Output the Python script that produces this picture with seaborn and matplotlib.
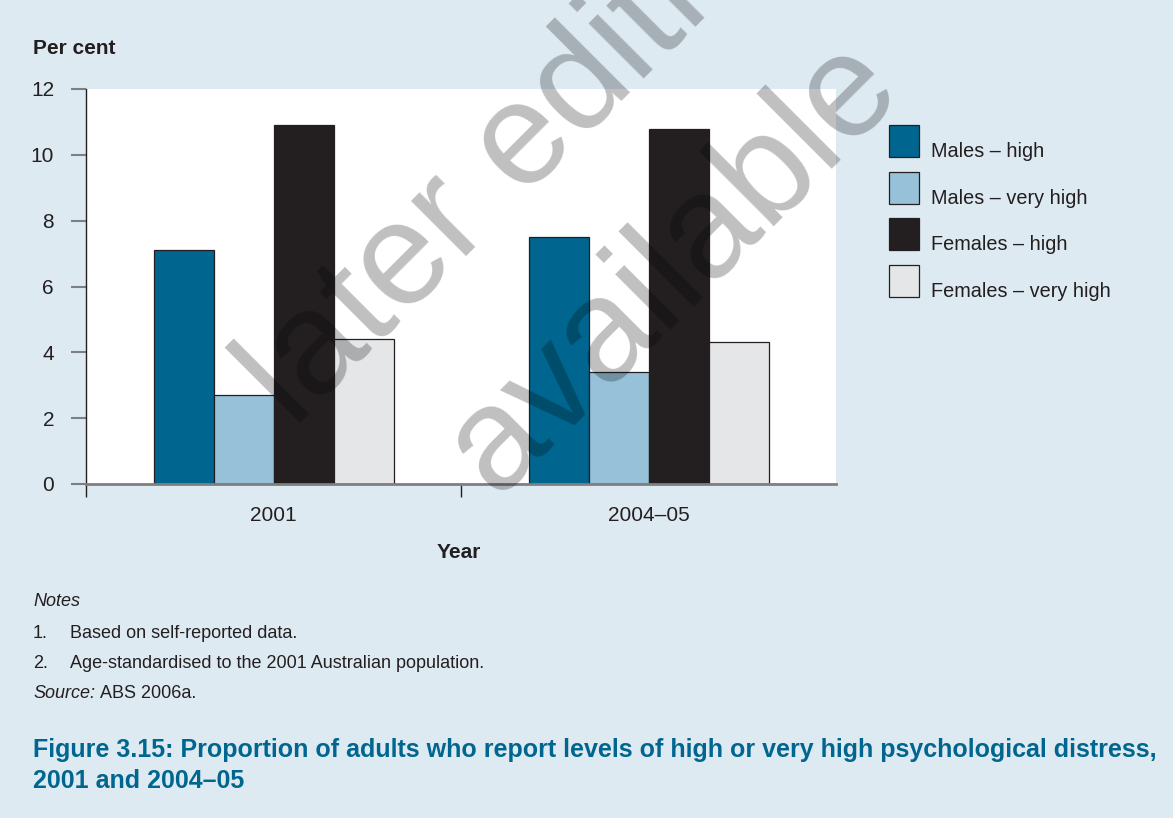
import pandas as pd
import seaborn as sns
import matplotlib.pyplot as plt
from matplotlib.patches import Patch, Rectangle
from matplotlib.legend_handler import HandlerPatch

# data
years = ['2001', '2004–05']
groups = ['Males – high', 'Males – very high', 'Females – high', 'Females – very high']
males_high = [7.1, 7.5]
males_very_high = [2.7, 3.4]
females_high = [10.9, 10.8]
females_very_high = [4.4, 4.3]
colors = ['#00668f', '#96c1d9', '#231f20', '#e5e6e8']

rows = []
for g, vals in zip(groups, [males_high, males_very_high, females_high, females_very_high]):
    for y, v in zip(years, vals):
        rows.append({'Year': y, 'Group': g, 'Per cent': v})
df = pd.DataFrame(rows)

plt.rcParams['font.family'] = ['Liberation Sans', 'DejaVu Sans']

W, H = 1173, 818
bg = '#deeaf2'
ink = '#231f20'
fig = plt.figure(figsize=(W / 100, H / 100), dpi=100, facecolor=bg)
ax = fig.add_axes([86 / W, 1 - 484 / H, 750 / W, 395 / H])
ax.set_facecolor('white')

sns.barplot(data=df, x='Year', y='Per cent', hue='Group', order=years, hue_order=groups,
            palette=colors, saturation=1, width=0.64, edgecolor=ink, linewidth=0.9,
            errorbar=None, legend=False, ax=ax)

ax.set_xlim(-0.5, 1.5)
ax.set_ylim(0, 12)
ax.set_yticks(range(0, 13, 2))
ax.set_xlabel('')
ax.set_ylabel('')
for s in ['top', 'right']:
    ax.spines[s].set_visible(False)
ax.spines['left'].set_color(ink)
ax.spines['left'].set_linewidth(1)
ax.spines['bottom'].set_color('#7f7f7f')
ax.spines['bottom'].set_linewidth(2)
ax.tick_params(axis='y', length=11, width=1.5, color='#7f7f7f', pad=12,
               labelsize=15, labelcolor=ink)
ax.tick_params(axis='x', which='major', length=0, pad=16, labelsize=15, labelcolor=ink)
ax.set_xticks([-0.5, 0.5], minor=True)
ax.tick_params(axis='x', which='minor', length=9.5, width=1, color=ink)


# legend swatch sits on the text baseline
def swatch(legend, orig_handle, xdescent, ydescent, width, height, fontsize):
    return Rectangle((-xdescent, 0), width, height)


handles = [Patch(facecolor=c, edgecolor=ink, linewidth=0.9) for c in colors]
ax.legend(handles, groups, loc='upper left', bbox_to_anchor=(889 / W, 1 - 135 / H),
          bbox_transform=fig.transFigure, frameon=False, fontsize=14.3,
          handlelength=1.5, handleheight=2.07, labelspacing=0.75,
          handletextpad=0.6, borderpad=0, borderaxespad=0, labelcolor=ink,
          handler_map={Patch: HandlerPatch(patch_func=swatch)})


def ftext(x, y, s, **kw):
    fig.text(x / W, 1 - y / H, s, color=kw.pop('color', ink), va=kw.pop('va', 'center'), **kw)


ftext(33, 48, 'Per cent', fontsize=15, fontweight='bold')
ftext(459, 552, 'Year', fontsize=15, fontweight='bold', ha='center')

ftext(33, 602, 'Notes', fontsize=13, style='italic')
ftext(33, 633, '1.', fontsize=13)
ftext(70, 633, 'Based on self-reported data.', fontsize=13)
ftext(33, 663, '2.', fontsize=13)
ftext(70, 663, 'Age-standardised to the 2001 Australian population.', fontsize=13)
ftext(33, 694, 'Source:', fontsize=13, style='italic')
ftext(100, 694, 'ABS 2006a.', fontsize=13)

ftext(33, 750, 'Figure 3.15: Proportion of adults who report levels of high or very high '
      'psychological distress,', fontsize=18, fontweight='bold', color='#00668f')
ftext(33, 781, '2001 and 2004–05', fontsize=18, fontweight='bold', color='#00668f')

# watermark
for s, (x, y) in [('later edition', (560, 162)), ('available', (700, 294))]:
    fig.text(x / W, 1 - y / H, s, fontsize=105, color='black', alpha=0.25,
             rotation=45, rotation_mode='anchor', ha='center', va='baseline', zorder=10)

fig.savefig('out.png', dpi=100, facecolor=bg)
